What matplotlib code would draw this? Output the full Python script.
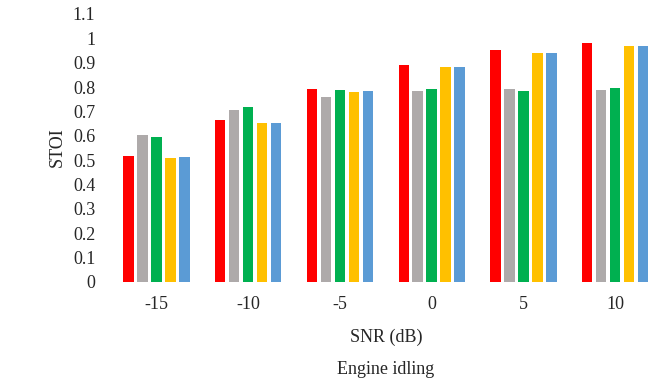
import matplotlib
matplotlib.use("Agg")
import matplotlib.pyplot as plt
import numpy as np

plt.rcParams['font.family'] = ['Liberation Serif', 'DejaVu Serif']

snr_labels = ['-15', '-10', '-5', '0', '5', '10']
series_red = [0.518, 0.663, 0.792, 0.889, 0.951, 0.980]
series_gray = [0.604, 0.705, 0.759, 0.785, 0.792, 0.788]
series_green = [0.597, 0.720, 0.788, 0.792, 0.783, 0.795]
series_yellow = [0.511, 0.652, 0.781, 0.881, 0.941, 0.970]
series_blue = [0.515, 0.654, 0.785, 0.881, 0.941, 0.968]
yticks = [0, 0.1, 0.2, 0.3, 0.4, 0.5, 0.6, 0.7, 0.8, 0.9, 1, 1.1]
ytick_labels = ['0', '0.1', '0.2', '0.3', '0.4', '0.5', '0.6', '0.7', '0.8', '0.9', '1', '1.1']

colors = ['#FF0000', '#AEAAAA', '#00B050', '#FFC000', '#5B9BD5']
all_series = [series_red, series_gray, series_green, series_yellow, series_blue]

W, H = 660, 385
fs = 13
fig = plt.figure(figsize=(W / 100, H / 100), dpi=100)
ax = fig.add_axes([110.6 / W, 1 - 282 / H, (661 - 110.6) / W, (282 - 14) / H])

x = np.arange(len(snr_labels))
pitch = 0.1525
bar_w = 0.113
for i, (vals, c) in enumerate(zip(all_series, colors)):
    ax.bar(x + (i - 2) * pitch, vals, width=bar_w, color=c, edgecolor='none', zorder=2)

ax.set_xlim(-0.5, len(snr_labels) - 0.5)
ax.set_ylim(0, 1.1)
ax.set_yticks(yticks)
ax.set_yticklabels(ytick_labels, fontsize=fs, color='#262626')
ax.set_xticks(x)
ax.set_xticklabels(snr_labels, fontsize=fs, color='#262626')
ax.tick_params(axis='y', length=0, pad=11)
ax.tick_params(axis='x', length=0, pad=10)
for s in ax.spines.values():
    s.set_visible(False)

fig.text(386 / W, 1 - 337 / H, 'SNR (dB)', ha='center', va='center', fontsize=fs, color='#262626')
fig.text(386 / W, 1 - 370 / H, 'Engine idling', ha='center', va='center', fontsize=fs, color='#262626')
fig.text(57 / W, 1 - 147 / H, 'STOI', ha='center', va='center', rotation=90, fontsize=fs, color='#262626')

fig.savefig('out.png', dpi=100)
